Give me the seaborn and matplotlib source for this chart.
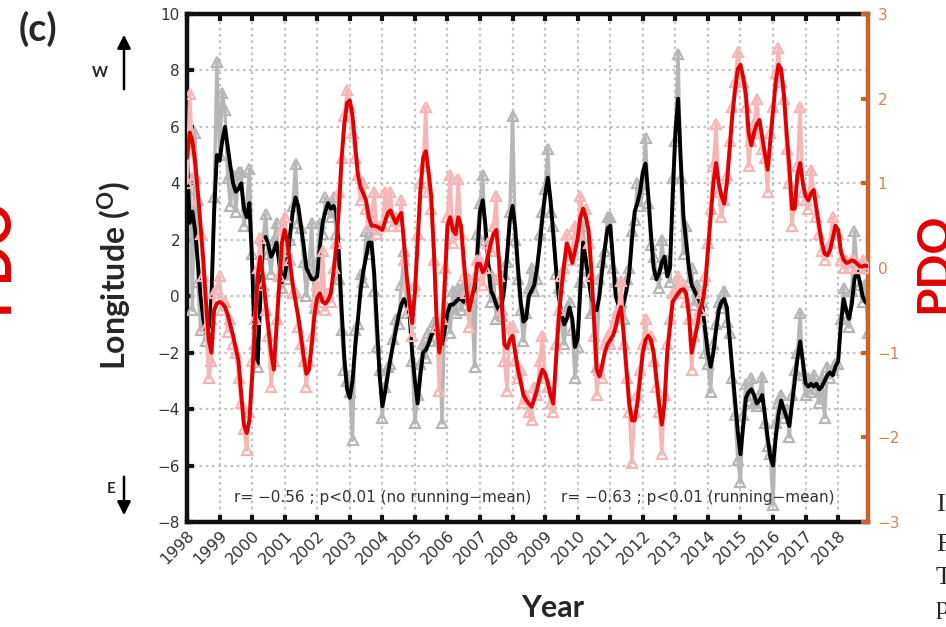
import matplotlib
matplotlib.use("Agg")
import matplotlib.pyplot as plt
from matplotlib.transforms import ScaledTranslation
import numpy as np
import pandas as pd
import seaborn as sns

# ---------------------------------------------------------------- data
YEARS = list(range(1998, 2019))
YEAR_LABELS = [str(y) for y in YEARS]
LON_TICKS = [-8, -6, -4, -2, 0, 2, 4, 6, 8, 10]
PDO_TICKS = [-3, -2, -1, 0, 1, 2, 3]

# monthly longitude anomaly (deg), Jan 1998 .. Dec 2018
LON_RAW = [
    3.8, 4.2, -0.5, 5.8, 0.5, -1.2, -0.5, -1.6, -1.3, -0.8, 3.5, 8.3,
    5.0, 7.2, 6.6, 4.2, 3.2, 4.3, 3.0, 4.4, 4.4, 2.5, 3.2, 4.5,
    1.5, -1.7, -2.5, 0.3, 2.0, 2.9, 1.5, 0.8, 2.0, 2.6, 0.7, 0.3,
    1.5, 0.6, 2.0, 3.2, 4.7, 2.6, 2.4, 1.2, 0.0, 1.1, 2.6, -0.4,
    1.2, 2.6, 2.2, 3.5, 3.1, 2.8, 3.5, 2.2, 0.6, -1.2, -2.6, -3.0,
    -3.4, -5.1, -1.2, -1.0, 0.8, 0.5, 2.3, 1.5, 2.5, 0.2, -1.8, -2.6,
    -4.3, -3.2, -2.5, -2.4, -1.5, -0.8, -1.0, 0.4, 1.6, -0.6, -0.2, -2.3,
    -4.5, -3.5, -2.4, -1.7, -2.2, -1.3, -1.6, -0.9, -1.2, -1.5, -4.5, -0.6,
    -0.4, -1.3, 0.2, -0.6, 0.3, -0.5, 0.4, -0.3, 0.6, -0.2, -2.5, 2.2,
    3.3, 4.3, 2.0, 1.0, -0.2, 0.6, -0.8, -0.2, -0.7, 0.8, 1.2, 3.0,
    6.4, 2.0, 0.6, -0.5, -1.6, -0.6, 0.3, 1.0, 0.2, 0.6, 2.2, 3.0,
    3.8, 5.2, 3.0, 2.5, 0.8, 0.3, -1.0, -1.7, -0.5, -0.2, -1.2, -2.9,
    -1.8, 0.5, 2.5, 1.0, 0.9, -0.6, -0.5, -2.5, 0.6, 1.2, 1.6, 2.8,
    2.8, 1.0, 0.5, -0.6, -0.2, -0.8, 0.6, 1.0, 2.3, 2.7, 4.0, 3.2,
    3.8, 5.6, 3.3, 1.8, 1.4, 0.8, 0.3, 2.0, 1.0, 1.3, 0.5, 4.2,
    5.5, 8.6, 4.2, 1.5, 2.5, 0.5, 1.0, -0.3, 0.4, -0.5, -0.2, -2.0,
    -2.4, -3.4, -1.7, -1.0, -0.2, -0.4, 0.2, -0.9, -1.3, -2.9, -4.2, -5.8,
    -6.6, -4.2, -3.1, -3.7, -2.9, -3.8, -3.9, -3.5, -2.85, -4.5, -5.3, -5.6,
    -7.4, -4.5, -3.8, -3.5, -4.3, -4.0, -5.0, -3.5, -2.6, -2.0, -0.6, -2.8,
    -3.5, -2.9, -3.4, -2.8, -3.3, -3.8, -2.9, -4.3, -2.5, -2.9, -2.6, -2.4,
    -2.4, -0.8, 0.3, -0.6, -1.1, 0.2, 2.3, 1.0, 0.4, -0.2, 0.4, -1.3,
]

# running mean of the longitude anomaly
LON_RM = [
    4.8, 2.6, 3.0, 2.3, 1.2, 0.0, -0.8, -1.3, -1.4, 0.0, 3.0, 5.0,
    4.8, 5.5, 6.0, 5.3, 4.6, 4.0, 3.7, 3.8, 4.0, 3.1, 2.8, 3.3,
    1.2, -1.8, -2.4, -0.2, 1.9, 2.1, 1.8, 1.4, 1.6, 1.9, 1.2, 0.5,
    0.7, 1.3, 2.2, 3.0, 3.5, 3.2, 2.5, 1.8, 1.0, 0.8, 0.6, 0.6,
    0.7, 1.8, 2.6, 3.0, 3.3, 3.1, 3.2, 3.0, 1.5, -0.5, -2.2, -3.3,
    -3.6, -3.0, -1.8, -0.8, 0.2, 0.9, 1.4, 1.9, 1.9, 0.8, -1.0, -2.8,
    -3.9, -3.4, -2.8, -2.2, -1.7, -1.2, -0.7, -0.3, -0.1, -0.3, -0.6, -2.0,
    -3.0, -3.8, -2.8, -2.0, -1.9, -1.7, -1.4, -1.2, -1.0, -1.4, -1.7, -1.2,
    -0.6, -0.3, -0.3, -0.2, -0.1, -0.1, -0.2, 0.0, 0.1, 0.1, 0.2, 1.5,
    3.0, 3.4, 2.5, 1.2, 0.2, 0.0, -0.3, -0.5, -0.3, 0.3, 1.5, 2.7,
    3.2, 2.4, 1.0, -0.2, -0.9, -0.8, 0.0, 0.2, 0.4, 1.0, 1.8, 2.8,
    3.6, 4.2, 3.4, 2.2, 1.0, 0.0, -0.6, -1.0, -0.8, -0.4, -0.8, -1.8,
    -1.5, 0.3, 1.9, 1.3, 0.6, 0.0, -0.4, -0.5, 0.0, 0.9, 1.7, 2.4,
    2.5, 1.3, 0.0, -0.3, -0.5, -0.2, 0.2, 0.8, 2.0, 3.0, 3.3, 3.7,
    4.4, 4.7, 3.6, 2.2, 1.0, 0.6, 0.8, 1.2, 1.4, 0.7, 1.0, 3.5,
    5.8, 7.0, 4.8, 2.8, 1.9, 1.0, 0.4, 0.2, 0.0, -0.2, -0.4, -1.2,
    -2.0, -2.5, -2.0, -1.2, -0.5, -0.2, -0.1, -0.4, -1.5, -2.6, -3.7, -4.8,
    -5.6, -4.6, -3.6, -3.4, -3.3, -3.5, -3.8, -3.7, -3.5, -4.2, -5.0, -5.7,
    -6.0, -5.0, -4.2, -3.7, -4.0, -4.3, -4.6, -3.8, -3.0, -2.2, -1.6, -2.3,
    -3.1, -3.2, -3.1, -3.2, -3.1, -3.3, -3.2, -3.0, -2.8, -2.7, -2.8, -2.5,
    -2.3, -1.0, -0.1, -0.5, -0.8, -0.3, 0.6, 0.9, 0.5, 0.0, -0.2, -0.3,
]

# monthly PDO index
PDO_RAW = [
    1.0, 2.05, 1.4, 1.1, 0.8, 0.4, -0.1, -0.7, -1.3, -1.1, -0.3, -0.25,
    -0.1, -0.5, -0.4, -0.75, -0.6, -0.9, -1.0, -1.3, -1.6, -1.9, -2.15, -1.7,
    -1.1, -0.6, 0.0, 0.35, -0.2, -0.5, -0.8, -1.4, -1.1, -0.6, -0.1, 0.45,
    0.6, 0.2, 0.1, -0.3, -0.3, -0.7, -0.9, -1.1, -1.4, -1.1, -0.8, -0.4,
    -0.2, -0.4, 0.2, -0.5, -0.3, -0.4, 0.0, 0.3, 0.9, 1.3, 1.8, 2.1,
    1.9, 1.6, 1.3, 1.1, 0.8, 1.0, 0.7, 0.5, 0.6, 0.9, 0.4, 0.5,
    0.5, 0.9, 0.6, 0.9, 0.5, 0.6, 0.5, 0.8, 0.1, -0.2, -0.5, -0.8,
    -0.2, 0.4, 1.0, 1.2, 1.9, 0.9, 0.7, 0.1, -0.7, -1.45, -0.6, 0.0,
    0.6, 1.1, 0.3, 0.5, 1.05, 0.4, -0.1, -0.3, -0.7, -0.3, -0.1, 0.1,
    0.1, -0.2, 0.0, 0.3, 0.2, 0.5, 0.85, -0.1, -0.5, -1.1, -1.45, -0.7,
    -0.7, -1.1, -1.3, -1.2, -1.6, -1.5, -1.7, -1.8, -1.4, -1.5, -1.1, -0.8,
    -1.3, -1.4, -1.6, -1.7, -0.9, -0.5, -0.1, 0.0, 0.4, 0.1, 0.2, 0.5,
    0.4, 0.85, 0.6, 0.7, 0.3, -0.1, -0.8, -1.5, -1.2, -1.3, -0.9, -0.8,
    -0.9, -0.7, -0.6, -0.5, -0.15, -0.9, -1.3, -1.7, -2.3, -1.7, -1.5, -1.2,
    -0.9, -0.6, -0.9, -0.8, -1.1, -1.4, -1.7, -2.2, -1.5, -0.9, -0.6, -0.3,
    -0.3, -0.1, -0.3, -0.2, -0.4, -0.6, -1.2, -0.8, -0.6, -0.5, -0.3, -0.1,
    0.3, 0.7, 1.2, 1.7, 0.9, 0.6, 0.8, 1.1, 1.5, 1.9, 2.2, 2.55,
    2.3, 2.2, 1.9, 1.2, 1.5, 1.7, 2.0, 1.6, 1.4, 1.3, 0.9, 1.6,
    1.9, 2.3, 2.6, 2.2, 2.0, 1.4, 1.0, 0.5, 0.8, 1.2, 1.9, 0.9,
    0.8, 0.7, 1.16, 0.9, 0.6, 0.4, 0.2, 0.1, 0.2, 0.3, 0.6, 0.45,
    0.4, 0.1, 0.0, 0.1, 0.0, 0.1, 0.1, 0.0, 0.0, 0.1, 0.0, 0.0,
]

# running mean of the PDO index
PDO_RM = [
    1.3, 1.6, 1.5, 1.25, 0.9, 0.5, 0.1, -0.4, -0.85, -1.0, -0.5, -0.42,
    -0.4, -0.42, -0.46, -0.55, -0.68, -0.8, -0.95, -1.1, -1.5, -1.85, -1.95, -1.8,
    -1.3, -0.7, -0.1, 0.13, -0.1, -0.4, -0.7, -1.0, -1.2, -0.7, -0.2, 0.3,
    0.45, 0.3, 0.05, -0.2, -0.4, -0.57, -0.8, -1.05, -1.25, -1.2, -0.9, -0.55,
    -0.35, -0.3, -0.4, -0.42, -0.38, -0.3, -0.05, 0.25, 0.7, 1.3, 1.7, 1.95,
    1.98, 1.8, 1.45, 1.1, 0.95, 0.88, 0.8, 0.6, 0.5, 0.5, 0.49, 0.47,
    0.45, 0.55, 0.65, 0.68, 0.6, 0.53, 0.6, 0.65, 0.3, -0.1, -0.4, -0.65,
    -0.3, 0.3, 0.9, 1.3, 1.38, 1.15, 0.85, 0.2, -0.6, -1.0, -0.8, -0.2,
    0.5, 0.6, 0.45, 0.4, 0.6, 0.5, 0.1, -0.25, -0.5, -0.35, -0.2, 0.05,
    0.05, -0.05, 0.0, 0.15, 0.3, 0.4, 0.45, 0.1, -0.4, -0.9, -0.95, -0.85,
    -0.8, -1.0, -1.2, -1.35, -1.5, -1.56, -1.6, -1.64, -1.55, -1.44, -1.3, -1.2,
    -1.25, -1.36, -1.5, -1.6, -1.1, -0.6, -0.25, 0.05, 0.29, 0.2, 0.06, 0.2,
    0.35, 0.6, 0.7, 0.6, 0.45, 0.0, -0.6, -1.2, -1.28, -1.15, -1.0, -0.9,
    -0.85, -0.8, -0.7, -0.55, -0.46, -0.8, -1.2, -1.6, -1.8, -1.8, -1.6, -1.3,
    -1.0, -0.85, -0.8, -0.85, -1.0, -1.3, -1.6, -1.85, -1.6, -1.0, -0.7, -0.4,
    -0.35, -0.3, -0.26, -0.25, -0.3, -0.55, -1.0, -0.85, -0.7, -0.5, -0.4, -0.2,
    0.2, 0.6, 1.0, 1.24, 1.0, 0.85, 0.76, 1.0, 1.4, 1.8, 2.1, 2.35,
    2.4, 2.25, 2.05, 1.6, 1.45, 1.6, 1.7, 1.75, 1.55, 1.35, 1.16, 1.5,
    1.85, 2.2, 2.4, 2.35, 2.05, 1.6, 1.2, 0.7, 0.7, 1.1, 1.24, 1.0,
    0.85, 0.8, 0.88, 0.92, 0.7, 0.49, 0.3, 0.17, 0.15, 0.21, 0.35, 0.5,
    0.45, 0.2, 0.1, 0.06, 0.07, 0.09, 0.08, 0.05, 0.02, 0.02, 0.03, 0.02,
]

STATS_RAW = "r= \u22120.56 ; p<0.01 (no running\u2212mean)"
STATS_RM = "r= \u22120.63 ; p<0.01 (running\u2212mean)"

# ---------------------------------------------------------------- style
GRAY = "#b6b6b6"
PINK = "#f6b6b6"
RED = "#e00000"
ORANGE = "#c8642d"
ORANGE_TXT = "#cf8558"
GRID = "#c4c4c4"

sns.set_style("white")
plt.rcParams["font.family"] = ["DejaVu Sans"]
plt.rcParams["mathtext.fontset"] = "custom"
plt.rcParams["mathtext.bf"] = "Lato:bold"
plt.rcParams["mathtext.rm"] = "Lato"

W, H = 946, 627
fig = plt.figure(figsize=(W / 100, H / 100), dpi=100)
ax = fig.add_axes([187 / W, 1 - 522 / H, (868 - 187) / W, (522 - 14) / H])
ax2 = ax.twinx()

months = [y + m / 12 for y in YEARS for m in range(12)]
df = pd.DataFrame({"time": months, "lon_raw": LON_RAW, "lon_rm": LON_RM,
                   "pdo_raw": PDO_RAW, "pdo_rm": PDO_RM})

tri = dict(marker="^", markersize=7.5, markerfacecolor="none", markeredgewidth=1.6)
sns.lineplot(data=df, x="time", y="lon_raw", ax=ax, color=GRAY, linewidth=2.4,
             markeredgecolor=GRAY, zorder=3, **tri)
sns.lineplot(data=df, x="time", y="lon_rm", ax=ax, color="black", linewidth=2.8,
             zorder=4)
sns.lineplot(data=df, x="time", y="pdo_raw", ax=ax2, color=PINK, linewidth=2.4,
             markeredgecolor=PINK, zorder=3, **tri)
sns.lineplot(data=df, x="time", y="pdo_rm", ax=ax2, color=RED, linewidth=2.8,
             zorder=4)

# ---------------------------------------------------------------- axes
ax.set_xlim(1998, 2018 + 11 / 12)
ax.set_ylim(-8, 10)
ax2.set_ylim(-3, 3)
ax.set_xlabel("")
ax.set_ylabel("")
ax2.set_ylabel("")

ax.set_xticks(YEARS)
ax.set_xticklabels(YEAR_LABELS, rotation=45, ha="right", va="top",
                   rotation_mode="anchor")
for lab in ax.get_xticklabels():
    lab.set_transform(lab.get_transform() + ScaledTranslation(0.13, -0.02, fig.dpi_scale_trans))
ax.set_yticks(LON_TICKS)
ax.set_yticklabels([str(v).replace("-", "\u2212") for v in LON_TICKS])
ax2.set_yticks(PDO_TICKS)
ax2.set_yticklabels([str(v).replace("-", "\u2212") for v in PDO_TICKS])

ax.grid(True, color=GRID, linestyle=(0, (1.2, 1.6)), linewidth=1.6)
ax.set_axisbelow(True)

ax.tick_params(axis="x", direction="in", length=5, width=3, color="#111111",
               top=True, bottom=True, labelsize=11.5, labelcolor="#333333", pad=4)
ax.tick_params(axis="y", direction="in", length=5, width=3, color="#111111",
               left=True, right=False, labelsize=11, labelcolor="#333333", pad=5)
ax2.tick_params(axis="y", direction="in", length=5, width=3, color=ORANGE,
                labelsize=11, labelcolor=ORANGE_TXT, pad=7)

for side in ["left", "top", "bottom"]:
    ax.spines[side].set_color("#111111")
    ax.spines[side].set_linewidth(3.2)
ax.spines["right"].set_visible(False)
for side in ["left", "top", "bottom"]:
    ax2.spines[side].set_visible(False)
ax2.spines["right"].set_color(ORANGE)
ax2.spines["right"].set_linewidth(3.2)

ax.text(1999.45, -7.12, STATS_RAW, fontsize=11, color="#333333", va="center", zorder=6)
ax.text(2009.5, -7.12, STATS_RM, fontsize=11, color="#333333", va="center", zorder=6)


# ---------------------------------------------------------------- labels around the panel
def ftext(x, y, s, **kw):
    fig.text(x / W, 1 - y / H, s, **kw)


BOLD = dict(fontweight="bold", family=["Lato", "DejaVu Sans"])
ftext(38, 29, "(c)", fontsize=27, ha="center", va="center", **BOLD)
ftext(100, 73, "W", fontsize=11, ha="center", va="center", **BOLD)
ftext(111, 489, "E", fontsize=11, ha="center", va="center", **BOLD)
ftext(114, 276, r"Longitude ($\mathbf{^{O}}$)", fontsize=23, rotation=90,
      ha="center", va="center", **BOLD)
ftext(553, 608, "Year", fontsize=22, ha="center", va="center", **BOLD)
ftext(-8, 255, "PDO", fontsize=38, rotation=90, color=RED, ha="center", va="center", **BOLD)
ftext(934, 263, "PDO", fontsize=33, rotation=90, color=RED, ha="center", va="center", **BOLD)

for ch, y in [("I", 505), ("F", 545), ("T", 578), ("p", 608)]:
    ftext(936, y, ch, fontsize=19, family="Liberation Serif", ha="left", va="center")

arrow = dict(arrowstyle="-|>", color="black", lw=1.8, mutation_scale=20)
ax.annotate("", xy=(124, H - 32), xytext=(124, H - 92), xycoords="figure pixels",
            textcoords="figure pixels", arrowprops=arrow, annotation_clip=False)
ax.annotate("", xy=(124, H - 518), xytext=(124, H - 474), xycoords="figure pixels",
            textcoords="figure pixels", arrowprops=arrow, annotation_clip=False)

fig.savefig("out.png", dpi=100)
